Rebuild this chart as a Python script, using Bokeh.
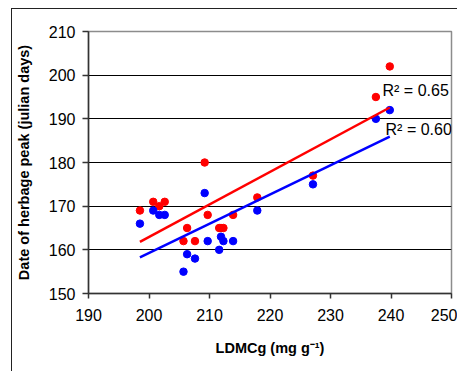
from bokeh.plotting import figure
from bokeh.models import Range1d, Label, FixedTicker
from bokeh.embed import file_html
from bokeh.resources import INLINE

# LDMCg (mg g-1) per site
ldmc = [198.5, 200.7, 201.7, 202.6, 205.7, 206.3, 207.6, 209.2, 209.7,
        211.6, 211.9, 212.3, 213.9, 217.9, 227.1, 237.5, 239.8]
# date of herbage peak (julian days)
peak_red = [169, 171, 170, 171, 162, 165, 162, 180, 168,
            165, 165, 165, 168, 172, 177, 195, 202]
peak_blue = [166, 169, 168, 168, 155, 159, 158, 173, 162,
             160, 163, 162, 162, 169, 175, 190, 192]

# linear trend lines (end points)
trend_x = [198.5, 239.8]
trend_red = [161.8, 192.6]
trend_blue = [158.3, 185.9]

x_ticks = [190, 200, 210, 220, 230, 240, 250]
y_ticks = [150, 160, 170, 180, 190, 200, 210]

FONT = "Liberation Sans"

p = figure(width=446, height=363, output_backend="svg", toolbar_location=None,
           x_range=Range1d(190, 250), y_range=Range1d(150, 210),
           min_border_left=76, min_border_right=7, min_border_top=22,
           min_border_bottom=79)
p.styles = {"margin-left": "11px", "margin-top": "8px",
            "border-left": "1.5px solid #222", "border-top": "1.5px solid #222"}
p.background_fill_color = "white"
p.border_fill_color = "white"
p.outline_line_color = "#8c8c8c"
p.outline_line_width = 1.5

p.xgrid.visible = False
p.ygrid.ticker = FixedTicker(ticks=[160, 170, 180, 190, 200])
p.ygrid.grid_line_color = "black"
p.ygrid.grid_line_width = 1

for ax in (p.xaxis[0], p.yaxis[0]):
    ax.axis_line_color = "#333333"
    ax.axis_line_width = 1.5
    ax.major_tick_line_color = "#333333"
    ax.major_tick_line_width = 1.5
    ax.major_tick_in = 0
    ax.minor_tick_line_color = None
    ax.major_label_text_font = FONT
    ax.major_label_text_font_size = "16px"
    ax.major_label_text_color = "black"
    ax.axis_label_text_font = FONT
    ax.axis_label_text_font_style = "bold"
    ax.axis_label_text_font_size = "14.5px"
    ax.axis_label_text_color = "black"

p.xaxis.ticker = FixedTicker(ticks=x_ticks)
p.yaxis.ticker = FixedTicker(ticks=y_ticks)
p.xaxis.major_tick_out = 5
p.yaxis.major_tick_out = 6
p.xaxis.major_label_standoff = 10
p.yaxis.major_label_standoff = 7
p.xaxis.axis_label = "LDMCg (mg g⁻¹)"
p.yaxis.axis_label = "Date of herbage peak (julian days)"
p.xaxis.axis_label_standoff = 16
p.yaxis.axis_label_standoff = 14

p.scatter(ldmc, peak_red, size=7.5, color="#ff0000")
p.scatter(ldmc, peak_blue, size=7.5, color="#0000ff")
p.line(trend_x, trend_red, line_color="#ff0000", line_width=2.5)
p.line(trend_x, trend_blue, line_color="#0000ff", line_width=2.5)

p.add_layout(Label(x=238.6, y=196.4, text="R² = 0.65", text_font=FONT,
                   text_font_size="16px", text_baseline="middle", text_color="black"))
p.add_layout(Label(x=239.1, y=187.5, text="R² = 0.60", text_font=FONT,
                   text_font_size="16px", text_baseline="middle", text_color="black"))

open("out.html", "w").write(file_html(p, INLINE))
